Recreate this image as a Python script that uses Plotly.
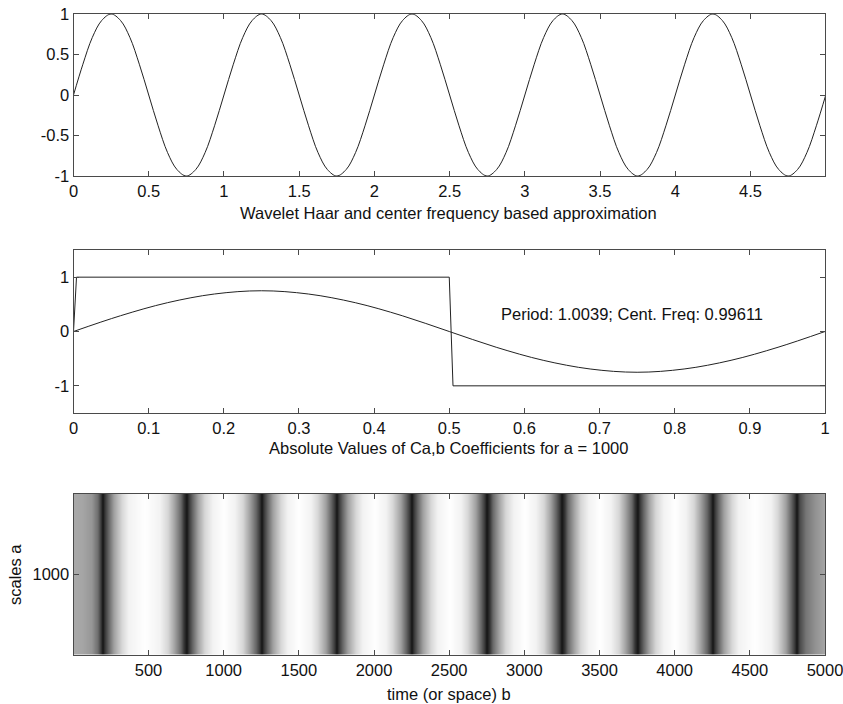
import plotly.graph_objects as go

# ---------------- data ----------------
# top: signal, sampled every 1/16 unit from 0 to 5
sig_x = [i / 16 for i in range(81)]
sig_y = [0, 0.38, 0.71, 0.92, 1, 0.92, 0.71, 0.38, 0, -0.38, -0.71, -0.92, -1, -0.92, -0.71, -0.38,
         0, 0.38, 0.71, 0.92, 1, 0.92, 0.71, 0.38, 0, -0.38, -0.71, -0.92, -1, -0.92, -0.71, -0.38,
         0, 0.38, 0.71, 0.92, 1, 0.92, 0.71, 0.38, 0, -0.38, -0.71, -0.92, -1, -0.92, -0.71, -0.38,
         0, 0.38, 0.71, 0.92, 1, 0.92, 0.71, 0.38, 0, -0.38, -0.71, -0.92, -1, -0.92, -0.71, -0.38,
         0, 0.38, 0.71, 0.92, 1, 0.92, 0.71, 0.38, 0, -0.38, -0.71, -0.92, -1, -0.92, -0.71, -0.38,
         0]

# middle: Haar wavelet and centre-frequency approximation
haar_x = [0, 0.004, 0.5, 0.505, 1]
haar_y = [0, 1, 1, -1, -1]
approx_x = [0, 0.0625, 0.125, 0.1875, 0.25, 0.3125, 0.375, 0.4375, 0.5,
            0.5625, 0.625, 0.6875, 0.75, 0.8125, 0.875, 0.9375, 1]
approx_y = [0, 0.29, 0.53, 0.69, 0.75, 0.69, 0.53, 0.29, 0,
            -0.29, -0.53, -0.69, -0.75, -0.69, -0.53, -0.29, 0]
period_text = "Period: 1.0039; Cent. Freq: 0.99611"

# bottom: |Ca,b| at scale a = 1000 (grey level, 0 = black, 1 = white)
hm_b = [1, 60, 120, 160, 180, 192,
        207, 232, 267, 317, 367, 470, 575, 625, 675, 710, 735, 750,
        765, 790, 825, 875, 925, 1000, 1075, 1125, 1175, 1210, 1235, 1250,
        1265, 1290, 1325, 1375, 1425, 1500, 1575, 1625, 1675, 1710, 1735, 1750,
        1765, 1790, 1825, 1875, 1925, 2000, 2075, 2125, 2175, 2210, 2235, 2250,
        2265, 2290, 2325, 2375, 2425, 2500, 2575, 2625, 2675, 2710, 2735, 2750,
        2765, 2790, 2825, 2875, 2925, 3000, 3075, 3125, 3175, 3210, 3235, 3250,
        3265, 3290, 3325, 3375, 3425, 3500, 3575, 3625, 3675, 3710, 3735, 3750,
        3765, 3790, 3825, 3875, 3925, 4000, 4075, 4125, 4175, 4210, 4235, 4250,
        4265, 4290, 4325, 4375, 4425, 4530, 4635, 4685, 4735, 4770, 4795, 4812,
        4830, 4870, 4930, 5000]
hm_z = [0.66, 0.64, 0.58, 0.42, 0.22, 0.06,
        0.20, 0.40, 0.62, 0.84, 0.95, 1.0, 0.95, 0.84, 0.62, 0.40, 0.20, 0.06,
        0.20, 0.40, 0.62, 0.84, 0.95, 1.0, 0.95, 0.84, 0.62, 0.40, 0.20, 0.06,
        0.20, 0.40, 0.62, 0.84, 0.95, 1.0, 0.95, 0.84, 0.62, 0.40, 0.20, 0.06,
        0.20, 0.40, 0.62, 0.84, 0.95, 1.0, 0.95, 0.84, 0.62, 0.40, 0.20, 0.06,
        0.20, 0.40, 0.62, 0.84, 0.95, 1.0, 0.95, 0.84, 0.62, 0.40, 0.20, 0.06,
        0.20, 0.40, 0.62, 0.84, 0.95, 1.0, 0.95, 0.84, 0.62, 0.40, 0.20, 0.06,
        0.20, 0.40, 0.62, 0.84, 0.95, 1.0, 0.95, 0.84, 0.62, 0.40, 0.20, 0.06,
        0.20, 0.40, 0.62, 0.84, 0.95, 1.0, 0.95, 0.84, 0.62, 0.40, 0.20, 0.06,
        0.20, 0.40, 0.62, 0.84, 0.95, 1.0, 0.95, 0.84, 0.62, 0.40, 0.20, 0.06,
        0.28, 0.45, 0.56, 0.65]
hm_scales = [500, 1500]

top_xticks = [0, 0.5, 1, 1.5, 2, 2.5, 3, 3.5, 4, 4.5]
top_yticks = [-1, -0.5, 0, 0.5, 1]
mid_xticks = [0, 0.1, 0.2, 0.3, 0.4, 0.5, 0.6, 0.7, 0.8, 0.9, 1]
mid_yticks = [-1, 0, 1]
bot_xticks = [500, 1000, 1500, 2000, 2500, 3000, 3500, 4000, 4500, 5000]
bot_yticks = [1000]

label_top = "Wavelet Haar and center frequency based approximation"
label_mid = "Absolute Values of Ca,b Coefficients for a = 1000"
label_bot = "time (or space) b"
label_y = "scales a"

# ---------------- figure ----------------
W, H = 843, 704
FONT = "Liberation Sans, Arial, sans-serif"
FS = 16.5
AX = "#4a4a4a"
LINE = "#222222"


def px_x(p):
    return p / W


def px_y(p):
    return 1 - p / H


fig = go.Figure()

fig.add_trace(go.Scatter(x=sig_x, y=sig_y, mode="lines", line=dict(color=LINE, width=1, shape="spline"),
                         xaxis="x", yaxis="y", showlegend=False, hoverinfo="skip"))
fig.add_trace(go.Scatter(x=haar_x, y=haar_y, mode="lines", line=dict(color=LINE, width=1),
                         xaxis="x2", yaxis="y2", showlegend=False, hoverinfo="skip"))
fig.add_trace(go.Scatter(x=approx_x, y=approx_y, mode="lines", line=dict(color=LINE, width=1, shape="spline"),
                         xaxis="x2", yaxis="y2", showlegend=False, hoverinfo="skip"))
fig.add_trace(go.Heatmap(x=hm_b, y=hm_scales, z=[hm_z, hm_z], zsmooth="best",
                         colorscale=[[0, "#141414"], [1, "#ffffff"]], zmin=0.06, zmax=1.0,
                         showscale=False, xaxis="x3", yaxis="y3", hoverinfo="skip"))

xdom = [px_x(73.5), px_x(825)]
tfont = dict(family=FONT, size=FS, color="#111")
common = dict(showline=True, mirror="ticks", ticks="inside", ticklen=5, linecolor=AX, tickcolor=AX,
              linewidth=1, showgrid=False, zeroline=False, tickfont=tfont, automargin=False,
              ticklabeloverflow="allow")

fig.update_layout(
    width=W, height=H, margin=dict(l=0, r=0, t=0, b=0, autoexpand=False),
    paper_bgcolor="white", plot_bgcolor="white",
    font=dict(family=FONT, size=FS, color="#111"),
    xaxis=dict(domain=xdom, anchor="y", range=[0, 4.995], tickvals=top_xticks,
               ticktext=[f"{v:g}" for v in top_xticks], **common),
    yaxis=dict(domain=[px_y(176), px_y(14)], anchor="x", range=[-1, 1], tickvals=top_yticks,
               ticktext=[f"{v:g}" for v in top_yticks], **common),
    xaxis2=dict(domain=xdom, anchor="y2", range=[0, 1], tickvals=mid_xticks,
                ticktext=[f"{v:g}" for v in mid_xticks], **common),
    yaxis2=dict(domain=[px_y(413), px_y(250)], anchor="x2", range=[-1.5, 1.5], tickvals=mid_yticks,
                ticktext=[f"{v:g}" for v in mid_yticks], **common),
    xaxis3=dict(domain=xdom, anchor="y3", range=[1, 5000], tickvals=bot_xticks,
                ticktext=[str(v) for v in bot_xticks], **common),
    yaxis3=dict(domain=[px_y(655), px_y(493.5)], anchor="x3", range=[500, 1500], tickvals=bot_yticks,
                ticktext=[str(v) for v in bot_yticks], **common),
    annotations=[
        dict(text=label_top, x=px_x(449), y=px_y(213), xref="paper", yref="paper", showarrow=False,
             xanchor="center", yanchor="middle", font=tfont),
        dict(text=label_mid, x=px_x(449), y=px_y(448), xref="paper", yref="paper", showarrow=False,
             xanchor="center", yanchor="middle", font=tfont),
        dict(text=label_bot, x=px_x(449), y=px_y(694), xref="paper", yref="paper", showarrow=False,
             xanchor="center", yanchor="middle", font=tfont),
        dict(text=label_y, x=px_x(15), y=px_y(575), xref="paper", yref="paper", showarrow=False,
             textangle=-90, xanchor="center", yanchor="middle", font=tfont),
        dict(text=period_text, x=0.566, y=0.33, xref="x2", yref="y2", showarrow=False,
             xanchor="left", yanchor="middle", font=tfont),
    ],
)

fig.write_html("out.html")
